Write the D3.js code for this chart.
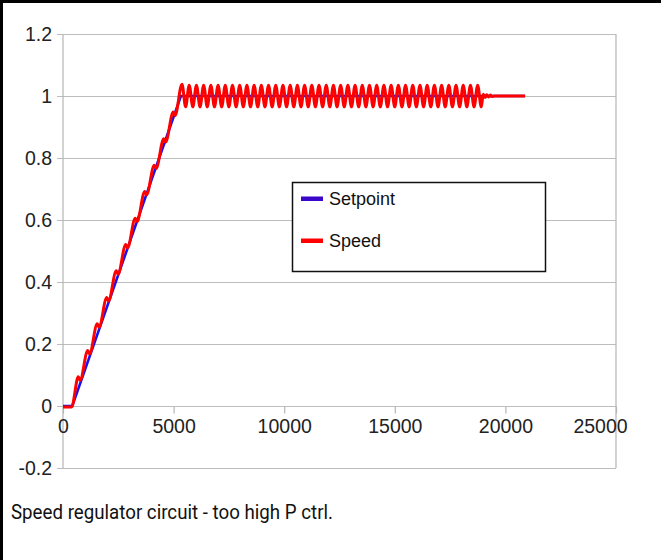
<!DOCTYPE html>
<html>
<head>
<meta charset="utf-8">
<script src="https://cdn.jsdelivr.net/npm/d3@7"></script>
<style>
  body { margin: 0; background: #fff; }
  svg { display: block; }
</style>
</head>
<body>
<svg id="chart" width="661" height="560"></svg>
<script>

// values
var xTicks = [0, 5000, 10000, 15000, 20000, 25000];
var yTicks = [-0.2, 0, 0.2, 0.4, 0.6, 0.8, 1, 1.2];
var yTickLabels = ["-0.2", "0", "0.2", "0.4", "0.6", "0.8", "1", "1.2"];

var seriesNames = ["Setpoint", "Speed"];

var setpoint = [[0, 0], [420, 0], [5330, 1], [20890, 1]];

var speed = [
  [0, -0.003], [390, -0.003],
  [692, 0.094], [772, 0.083], [1121, 0.179], [1201, 0.168], [1550, 0.265], [1630, 0.254],
  [1980, 0.350], [2060, 0.339], [2409, 0.436], [2489, 0.425], [2839, 0.521], [2919, 0.510],
  [3268, 0.606], [3348, 0.595], [3698, 0.692], [3778, 0.681], [4127, 0.777], [4207, 0.766],
  [4557, 0.862], [4637, 0.851], [4986, 0.948], [5066, 0.937],
  [5380, 1.038], [5543, 0.965], [5706, 1.035], [5869, 0.965], [6032, 1.035], [6195, 0.965],
  [6358, 1.035], [6521, 0.965], [6684, 1.035], [6847, 0.965], [7010, 1.035], [7173, 0.965],
  [7336, 1.035], [7499, 0.965], [7662, 1.035], [7825, 0.965], [7988, 1.035], [8151, 0.965],
  [8314, 1.035], [8477, 0.965], [8640, 1.035], [8803, 0.965], [8966, 1.035], [9129, 0.965],
  [9292, 1.035], [9455, 0.965], [9618, 1.035], [9781, 0.965], [9944, 1.035], [10107, 0.965],
  [10270, 1.035], [10433, 0.965], [10596, 1.035], [10759, 0.965], [10922, 1.035], [11085, 0.965],
  [11248, 1.035], [11411, 0.965], [11574, 1.035], [11737, 0.965], [11900, 1.035], [12063, 0.965],
  [12226, 1.035], [12389, 0.965], [12552, 1.035], [12715, 0.965], [12878, 1.035], [13041, 0.965],
  [13204, 1.035], [13367, 0.965], [13530, 1.035], [13693, 0.965], [13856, 1.035], [14019, 0.965],
  [14182, 1.035], [14345, 0.965], [14508, 1.035], [14671, 0.965], [14834, 1.035], [14997, 0.965],
  [15160, 1.035], [15323, 0.965], [15486, 1.035], [15649, 0.965], [15812, 1.035], [15975, 0.965],
  [16138, 1.035], [16301, 0.965], [16464, 1.035], [16627, 0.965], [16790, 1.035], [16953, 0.965],
  [17116, 1.035], [17279, 0.965], [17442, 1.035], [17605, 0.965], [17768, 1.035], [17931, 0.965],
  [18094, 1.035], [18257, 0.965], [18420, 1.035], [18583, 0.965], [18746, 1.035], [18909, 0.965],
  [19000, 1.006], [19080, 0.995], [19160, 1.004], [19240, 0.997], [19320, 1.003], [19400, 0.998],
  [19480, 1.0], [20890, 1.0]
];

var caption = "Speed regulator circuit - too high P ctrl.";

var svg = d3.select("#chart");

var x = d3.scaleLinear().domain([0, 25000]).range([63, 616]);
var y = d3.scaleLinear().domain([-0.2, 1.2]).range([468, 34]);

// outer frame (left and top edges visible)
svg.append("line").attr("x1", 1.5).attr("y1", 0).attr("x2", 1.5).attr("y2", 560)
  .attr("stroke", "#000").attr("stroke-width", 3);
svg.append("line").attr("x1", 0).attr("y1", 1.5).attr("x2", 661).attr("y2", 1.5)
  .attr("stroke", "#000").attr("stroke-width", 3);

// horizontal grid, reaching out as the y ticks
svg.append("g").selectAll("line")
  .data(yTicks)
  .enter()
  .append("line")
    .attr("x1", x(0) - 6)
    .attr("x2", x(25000))
    .attr("y1", function(d) { return Math.round(y(d)) + 0.5; })
    .attr("y2", function(d) { return Math.round(y(d)) + 0.5; })
    .attr("stroke", "#bdbdbd")
    .attr("stroke-width", 1.2);

// left axis line and right border of plot
svg.append("line").attr("x1", x(0)).attr("x2", x(0)).attr("y1", y(1.2)).attr("y2", y(-0.2))
  .attr("stroke", "#b5b5b5").attr("stroke-width", 1.2);
svg.append("line").attr("x1", x(25000)).attr("x2", x(25000)).attr("y1", y(1.2)).attr("y2", y(-0.2))
  .attr("stroke", "#b5b5b5").attr("stroke-width", 1.2);

// y axis labels
var yAxis = svg.append("g")
  .attr("transform", "translate(" + x(0) + ",0)")
  .call(d3.axisLeft(y).tickValues(yTicks).tickSize(0).tickPadding(11)
    .tickFormat(function(d, i) { return yTickLabels[i]; }));
yAxis.select(".domain").remove();
yAxis.selectAll("text")
  .attr("font-family", "Liberation Sans, Arial, sans-serif")
  .attr("font-size", 19.5)
  .attr("fill", "#222");

// x axis sits on y = 0
var xAxis = svg.append("g")
  .attr("transform", "translate(0," + (Math.round(y(0)) + 0.5) + ")")
  .call(d3.axisBottom(x).tickValues(xTicks).tickSize(7).tickPadding(6)
    .tickFormat(d3.format("d")));
xAxis.select(".domain").remove();
xAxis.selectAll("line").attr("stroke", "#b5b5b5").attr("stroke-width", 1.2);
xAxis.selectAll("text")
  .attr("font-family", "Liberation Sans, Arial, sans-serif")
  .attr("font-size", 19.5)
  .attr("fill", "#222")
  .attr("dx", function(d) { return d == 25000 ? -16 : 0; });

// series
var line = d3.line()
  .x(function(d) { return x(d[0]); })
  .y(function(d) { return y(d[1]); });

svg.append("path")
  .datum(setpoint)
  .attr("fill", "none")
  .attr("stroke", "#1a12ee")
  .attr("stroke-width", 2.6)
  .attr("d", line);

svg.append("path")
  .datum(speed)
  .attr("fill", "none")
  .attr("stroke", "#ff0000")
  .attr("stroke-width", 3)
  .attr("stroke-linejoin", "round")
  .attr("d", line.curve(d3.curveMonotoneX));

// legend
var legend = svg.append("g");
legend.append("rect")
  .attr("x", 292.5).attr("y", 182.5)
  .attr("width", 253).attr("height", 89)
  .attr("fill", "#fff")
  .attr("stroke", "#111")
  .attr("stroke-width", 1.5);

var legendColors = ["#3a06cc", "#ff0000"];
var legendY = [198.5, 240.5];

for (var i = 0 ; i < seriesNames.length ; i++){
  legend.append("rect")
    .attr("x", 301).attr("y", legendY[i] - 2)
    .attr("width", 22).attr("height", 4.5)
    .attr("fill", legendColors[i]);
  legend.append("text")
    .attr("x", 329).attr("y", legendY[i])
    .attr("dy", "0.35em")
    .attr("font-family", "Liberation Sans, Arial, sans-serif")
    .attr("font-size", 18)
    .attr("fill", "#111")
    .text(seriesNames[i]);
}

// caption under the chart
svg.append("text")
  .attr("x", 11)
  .attr("y", 519)
  .attr("font-family", "Roboto, 'Noto Sans', sans-serif")
  .attr("font-size", 21)
  .attr("textLength", 322)
  .attr("lengthAdjust", "spacingAndGlyphs")
  .attr("fill", "#111")
  .text(caption);

</script>
</body>
</html>
